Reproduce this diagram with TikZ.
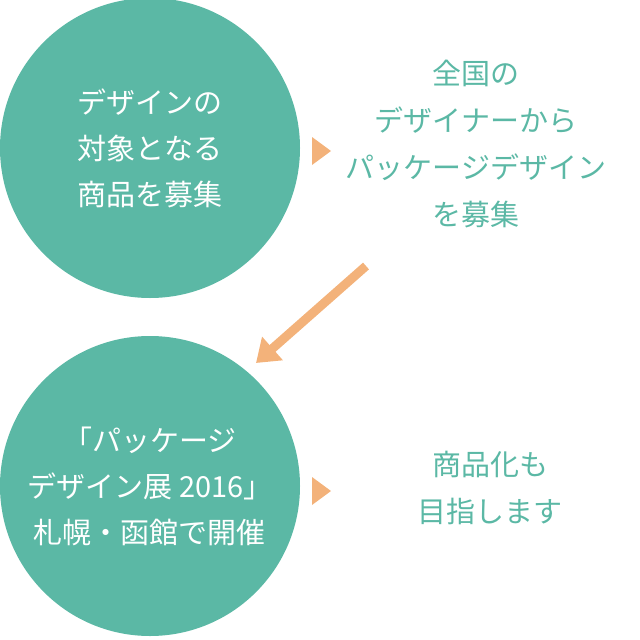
\documentclass[tikz,border=0pt]{standalone}
\usepackage{fontspec}
\setmainfont{Noto Sans CJK JP}
\usetikzlibrary{arrows.meta,positioning}
\definecolor{teal1}{HTML}{5BB8A5}
\definecolor{orange1}{HTML}{F3B27A}

\begin{document}
\begin{tikzpicture}[
    x=1pt, y=-1pt,
    stage/.style={circle, fill=teal1, minimum size=300pt, inner sep=0pt,
        text=white, font=\fontsize{29}{46}\selectfont, align=center},
    note/.style={text=teal1, font=\fontsize{29}{47}\selectfont, align=center},
    pointer/.style={fill=orange1}
]
\useasboundingbox (0,0) rectangle (640,640);

% Stages
\node[stage] (S1) at (150,148) {デザインの\\対象となる\\商品を募集};
\node[stage] (S2) at (150,486) {「パッケージ\\デザイン展 2016」\\札幌・函館で開催};

% Notes
\node[note] (N1) at (476,144) {全国の\\デザイナーから\\パッケージデザイン\\を募集};
\node[note] (N2) at (490,488) {商品化も\\目指します};

% Pointers
\fill[pointer] (312,137) -- (331,151) -- (312,165) -- cycle;
\fill[pointer] (312,477) -- (331,491) -- (312,505) -- cycle;

% Transition
\coordinate (A) at (366,266);
\coordinate (B) at (256,363);
\draw[orange1, line width=9pt, -{Triangle[length=22pt,width=30pt]}] (A) -- (B);
\end{tikzpicture}
\end{document}
